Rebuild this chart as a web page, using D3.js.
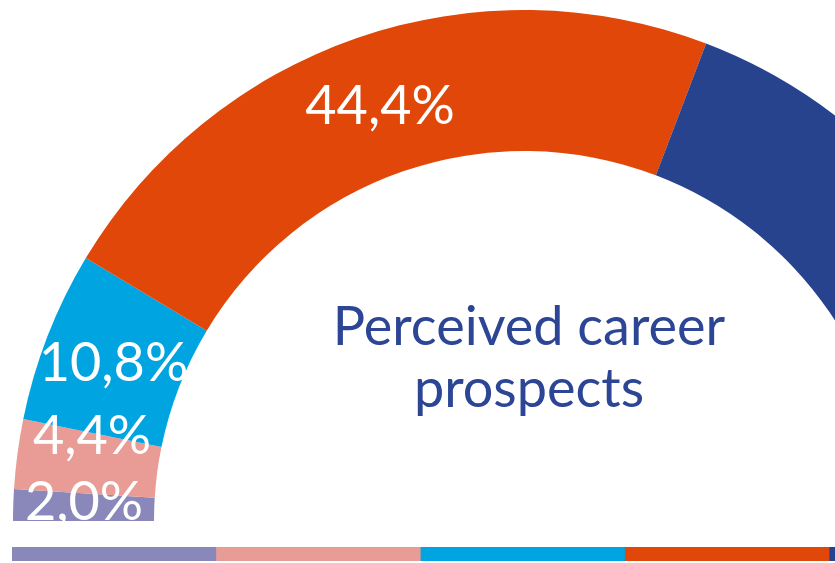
<!DOCTYPE html>
<html>
<head>
<meta charset="utf-8">
<script src="https://cdn.jsdelivr.net/npm/d3@7"></script>
<style>
  html, body { margin: 0; padding: 0; background: #ffffff; }
  svg { display: block; }
</style>
</head>
<body>
<svg id="chart" width="835" height="563"></svg>
<script>
// ---- data ----
const categories = ["cat1", "cat2", "cat3", "cat4", "cat5"];
const values = [2.0, 4.4, 10.8, 44.4, 38.4];
const labels = ["2,0%", "4,4%", "10,8%", "44,4%", "38,4%"];
const colors = ["#8a88bb", "#e89c95", "#00a4e0", "#e04708", "#27438e"];
const titleLines = ["Perceived career", "prospects"];
const shownLabels = 4; // the last slice's label lies outside the cropped picture

const W = 835, H = 563;
const cx = 524, cy = 521;
const rOuter = 511, rInner = 370;

const svg = d3.select("#chart");

const data = categories.map((c, i) => ({ cat: c, value: values[i], label: labels[i], color: colors[i] }));

const pie = d3.pie()
  .sort(null)
  .value(d => d.value)
  .startAngle(-Math.PI / 2)
  .endAngle(Math.PI / 2);

const arc = d3.arc().innerRadius(rInner).outerRadius(rOuter);

const g = svg.append("g").attr("transform", `translate(${cx},${cy})`);
const arcs = pie(data);

g.selectAll("path.slice")
  .data(arcs)
  .join("path")
  .attr("class", "slice")
  .attr("d", arc)
  .attr("fill", d => d.data.color);

// label angles: slice mid-angle, kept above the ring's flat base and pushed
// apart so the labels of narrow slices do not collide
const rLabel = (rInner + rOuter) / 2;
const deg = Math.PI / 180;
const minGap = 8.7 * deg;
let prev = -Math.PI / 2 + 2.6 * deg - minGap;
const labelPos = arcs.slice(0, shownLabels).map(d => {
  let a = (d.startAngle + d.endAngle) / 2;
  a = Math.max(a, prev + minGap);
  prev = a;
  return { d, x: rLabel * Math.sin(a), y: -rLabel * Math.cos(a) };
});

g.selectAll("text.lbl")
  .data(labelPos)
  .join("text")
  .attr("class", "lbl")
  .attr("x", p => p.x)
  .attr("y", p => p.y)
  .attr("text-anchor", "middle")
  .attr("dy", "0.36em")
  .attr("fill", "#ffffff")
  .style("font-family", "Lato, 'Open Sans', sans-serif")
  .style("font-size", "54px")
  .text(p => p.d.data.label);

// title in the middle
const title = svg.append("g")
  .attr("fill", "#2c4594")
  .style("font-family", "Lato, 'Open Sans', sans-serif")
  .style("font-size", "54px");
title.selectAll("text")
  .data(titleLines)
  .join("text")
  .attr("x", 529)
  .attr("y", (d, i) => 345 + i * 62)
  .attr("text-anchor", "middle")
  .text(d => d);

// legend colour bar along the bottom
const band = d3.scaleBand()
  .domain(categories)
  .range([12, 12 + 5 * 204.3]);

svg.append("g")
  .selectAll("rect")
  .data(data)
  .join("rect")
  .attr("x", d => band(d.cat))
  .attr("y", 547)
  .attr("width", band.bandwidth() + 0.5)
  .attr("height", 14)
  .attr("fill", d => d.color);
</script>
</body>
</html>
